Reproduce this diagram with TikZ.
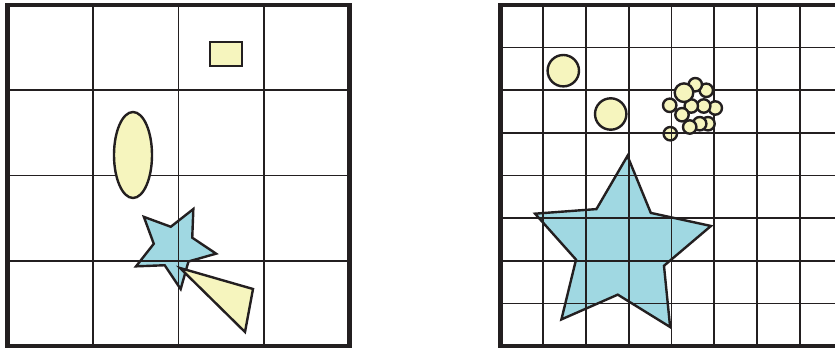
\documentclass[tikz,border=0pt]{standalone}
\usetikzlibrary{shapes.geometric}
\definecolor{inkline}{HTML}{231F20}
\definecolor{paleyellow}{HTML}{F6F5BE}
\definecolor{starblue}{HTML}{A0D8E2}
\tikzset{
  frame/.style={draw=inkline, line width=4.5pt},
  gridline/.style={draw=inkline, line width=1.6pt},
  yelshape/.style={draw=inkline, fill=paleyellow, line width=2.4pt},
  bluestar/.style={star, star points=5, draw=inkline, fill=starblue,
                   line width=2.4pt, inner sep=0pt}
}

\begin{document}
\begin{tikzpicture}[x=1pt, y=-1pt]
  \useasboundingbox (0,0) rectangle (835,350);
  \clip (0,0) rectangle (835,350);

  % left panel: 4x4 grid
  \node[bluestar, star point ratio=2.08, minimum size=85.2pt, rotate=-27] (lstar) at (174,247) {};
  \foreach \i in {1,2,3} {
    \draw[gridline] (7.5+85.5*\i,5) -- (7.5+85.5*\i,346);
    \draw[gridline] (7.5,5+85.25*\i) -- (349.5,5+85.25*\i);
  }
  \draw[yelshape] (210,42) rectangle (242,66);
  \draw[yelshape] (133,155) ellipse [x radius=19, y radius=43];
  \draw[yelshape] (180,268) -- (253,289) -- (245,332) -- cycle;
  \draw[frame] (7.5,5) rectangle (349.5,346);

  % right panel: 8x8 grid
  \node[bluestar, star point ratio=2.0, minimum size=185.4pt, rotate=-4] (rstar) at (621,248.4) {};
  \draw[yelshape] (670.3,133.7) circle [radius=6.7];
  \foreach \i in {1,...,7} {
    \draw[gridline] (500.5+42.75*\i,5) -- (500.5+42.75*\i,346);
    \draw[gridline] (500.5,5+42.65*\i) -- (842.5,5+42.65*\i);
  }
  \draw[yelshape] (563.3,70.7) circle [radius=15.7];
  \draw[yelshape] (610.7,114) circle [radius=15.7];
  \foreach \cx/\cy in {706.3/90.3, 695.3/84.7, 669.7/105.3, 715.3/108, 703.7/106,
                       691.3/106, 682/114.7, 708/123.7, 699.7/123.7, 689.7/127}
    \draw[yelshape] (\cx,\cy) circle [radius=6.7];
  \draw[yelshape] (684,92.7) circle [radius=9.3];
  \draw[frame] (500.5,5) rectangle (842.5,346);
\end{tikzpicture}
\end{document}
